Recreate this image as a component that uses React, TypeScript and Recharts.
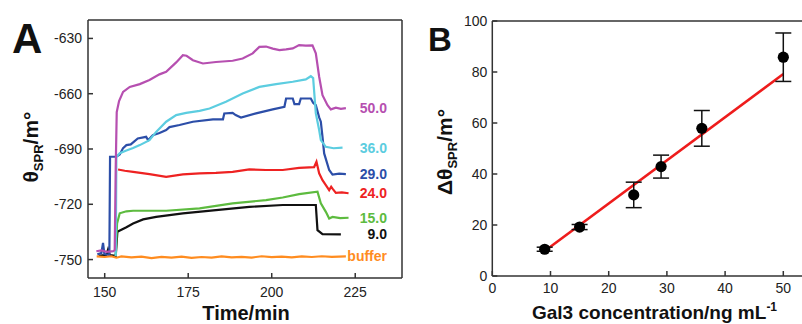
import React from 'react';
import {
  LineChart, Line, XAxis, YAxis, ComposedChart, Scatter, ErrorBar, LabelList, Label,
} from 'recharts';

const FONT = "'Liberation Sans', Arial, sans-serif";
const AXIS = '#333333';

// ---------- Panel A data (time/min, theta/m°) ----------
const s50: [number, number][] = [
  [147.5, -745.5], [149.0, -745.0], [150.5, -745.8], [152.6, -745.4], [153.0, -744.8], [153.3, -700], [153.6, -670],
  [154.3, -664], [155.5, -659], [157.5, -656.3], [160.5, -654.8], [163.4, -652.6], [166.4, -649.5], [168.4, -648.1],
  [171.4, -643], [173.4, -639.1], [174.5, -639.4], [176.4, -641.8], [179.4, -643.6], [183.3, -642.8], [188.3, -642.1],
  [191.3, -640.9], [194.3, -638.1], [196.3, -634.6], [198.3, -634.4], [200.3, -635.5], [202.3, -636.3], [204.3, -635.9],
  [206.3, -635.4], [208.2, -633.6], [210.2, -633.9], [212.2, -633.8], [213.2, -638.1], [214.2, -650.8], [215.2, -660.8],
  [216.7, -666.2], [217.7, -668.5], [219.2, -667.6], [220.7, -668.2], [222.2, -667.8],
];
const s36: [number, number][] = [
  [153.3, -748], [153.5, -694.2], [154.5, -692.3], [156.5, -690.8], [158.5, -689.5], [160.5, -687.9], [163.4, -685.2],
  [165.4, -680.7], [168.4, -675.2], [171.4, -671.6], [174.4, -670.4], [178.4, -669.3], [181.4, -668], [186.3, -664.4],
  [191.3, -659.9], [196.3, -656.3], [201.3, -654.8], [206.3, -653.5], [210.2, -652.2], [211.7, -650.5], [212.4, -651.5],
  [213.2, -670.7], [214.2, -679.7], [214.7, -685.2], [216.2, -688.8], [218.5, -689.6], [221.2, -689.3],
];
const s29: [number, number][] = [
  [147.8, -747.2], [149.0, -746.5], [149.5, -741], [149.9, -747], [151.4, -747.5], [151.6, -694.2], [153.5, -694.2],
  [154.5, -693], [155.5, -689.5], [156.5, -687.9], [157.8, -687.5], [159.9, -684.3], [162.4, -683.4], [163.0, -685.2],
  [164.4, -682.5], [166.4, -681.3], [168.4, -679.7], [169.4, -678.1], [172.4, -677], [176.4, -675.2], [182.4, -673.9],
  [185.4, -673.9], [185.8, -670.7], [188.3, -670.4], [189.2, -671.6], [190.8, -672.9], [195.3, -670.7], [200.3, -668.5],
  [203.8, -667.1], [204.3, -662.6], [206.3, -662.6], [206.8, -665.6], [208.2, -665.6], [208.7, -662.6], [211.7, -662.6],
  [212.4, -664.9], [213.2, -666.2], [214.2, -672.8], [214.7, -675.2], [215.2, -683.4], [215.7, -692.4], [217.2, -701.4],
  [218.2, -703.9], [220.2, -703.4], [222.2, -703.6],
];
const s24: [number, number][] = [
  [154, -701.1], [156, -701.8], [158.5, -702.4], [163.4, -703.6], [168.4, -705.1], [173.4, -703.8], [178.4, -703.2],
  [183.3, -703], [188.3, -702.4], [193.3, -701.1], [198.3, -701.4], [203.3, -701.4], [208.2, -700.2], [212.7, -699.8],
  [213.4, -696.9], [214.2, -703.2], [215.2, -706.9], [216.2, -709.6], [217.2, -712.3], [217.8, -710.5], [218.2, -711.5],
  [219.2, -713.8], [221, -713.5], [223, -714],
];
const s15: [number, number][] = [
  [153.3, -748], [153.7, -730.4], [154.5, -724.9], [156.5, -723.8], [158.5, -723.5], [168.4, -723.5], [178.4, -722.2],
  [188.3, -719.5], [198.3, -717.7], [203.3, -716.3], [208.2, -714.5], [213.7, -713.2], [214.7, -719.5], [216.2, -724.1],
  [217.2, -727.7], [218.2, -726.9], [220.5, -727.5], [223, -727.3],
];
const s9: [number, number][] = [
  [148.2, -748], [150.5, -747.5], [151, -744.5], [151.5, -747.5], [153.3, -748], [153.8, -734.9], [156.5, -732.5],
  [158.5, -730.4], [161.5, -728.2], [165.4, -726.8], [173.4, -724.9], [183.3, -723.2], [193.3, -721.4], [203.3, -720.4],
  [213.2, -720.4], [213.7, -734], [215.2, -736.2], [220.7, -736.3],
];
const sBuffer: [number, number][] = [
  [147.6, -748.3], [150, -748.6], [152, -748.2], [153.5, -749], [155, -748.3], [158, -748.8], [161, -748.4], [164, -749.2],
  [167, -748.5], [170, -748.9], [173, -748.4], [176, -749.1], [179, -748.6], [182, -748.9], [185, -748.3], [188, -748.8],
  [191, -748.5], [194, -748.9], [197, -748.2], [200, -748.7], [203, -748.4], [206, -748.8], [209, -748.3], [212, -748.6],
  [215, -748.2], [218, -748.5], [222.2, -748.3],
];

const seriesNames = ['9.0', '15.0', '24.0', '29.0', '36.0', '50.0', 'buffer'];
const seriesData = [s9, s15, s24, s29, s36, s50, sBuffer];
const seriesColors = ['#111111', '#5dbb3f', '#ee2222', '#2c4ea8', '#5ccde0', '#b64fb0', '#ff8c1f'];

const xTicksA = [150, 175, 200, 225];
const xMinorA = [162.5, 187.5, 212.5, 237.5];
const yTicksA = [-750, -720, -690, -660, -630];
const yMinorA = [-735, -705, -675, -645];

// ---------- Panel B data ----------
const conc = [9, 15, 24.3, 29, 36, 50];
const dTheta = [10.5, 19.2, 31.8, 42.9, 57.9, 85.8];
const dErr = [0.8, 1.0, 5.0, 4.5, 7.0, 9.5];
const fitX = [9, 50];
const fitY = [9.8, 79.2];

const xTicksB = [0, 10, 20, 30, 40, 50];
const xMinorB = [5, 15, 25, 35, 45];
const yTicksB = [0, 20, 40, 60, 80, 100];
const yMinorB = [10, 30, 50, 70, 90];

const tickStyle = { fontSize: 14, fill: '#222', fontFamily: FONT };

const makeEndLabel = (color: string) => (props: any) => {
  const { value, viewBox, y } = props;
  if (value === undefined || value === null || value === '') return null;
  const vy = viewBox && typeof viewBox.y === 'number' ? viewBox.y : y;
  return (
    <text x={387} y={vy + 5} textAnchor="end" fontSize={14} fontWeight="bold" fill={color} fontFamily={FONT}>
      {value}
    </text>
  );
};

const TitleA = () => (
  <g fontFamily={FONT}>
    <text x={12} y={53} fontSize={42} fontWeight="bold" fill="#111">A</text>
    <text x={38} y={147} textAnchor="middle" transform="rotate(-90 38 147)" fontSize={21} fontWeight="bold" fill="#111">
      θ<tspan fontSize={13} dy={5}>SPR</tspan><tspan dy={-5}>/m°</tspan>
    </text>
    <text x={246} y={320} textAnchor="middle" fontSize={20} fontWeight="bold" fill="#111">Time/min</text>
  </g>
);

const TitleB = () => (
  <g fontFamily={FONT}>
    <text x={28} y={51} fontSize={33} fontWeight="bold" fill="#111">B</text>
    <text x={52} y={152} textAnchor="middle" transform="rotate(-90 52 152)" fontSize={21} fontWeight="bold" fill="#111">
      Δθ<tspan fontSize={13} dy={5}>SPR</tspan><tspan dy={-5}>/m°</tspan>
    </text>
    <text x={132} y={319} fontSize={19} fontWeight="bold" fill="#111">
      Gal3 concentration/ng mL<tspan fontSize={12} dy={-8}>-1</tspan>
    </text>
  </g>
);

const Dot = (p: any) => <circle cx={p.cx} cy={p.cy} r={5.6} fill="#000" />;

export default function App() {
  const lines = seriesData.map((pts, i) => ({
    name: seriesNames[i],
    color: seriesColors[i],
    data: pts.map(([t, v], j) => ({ t, v, label: j === pts.length - 1 ? seriesNames[i] : undefined })),
  }));
  const scatterData = conc.map((x, i) => ({ x, y: dTheta[i], err: dErr[i] }));
  const fitData = fitX.map((x, i) => ({ x, y: fitY[i] }));

  return (
    <div style={{ position: 'fixed', left: 0, top: 0, width: 802, height: 324, overflow: 'hidden', background: '#fff' }}>
      <div style={{ position: 'absolute', left: 0, top: 0 }}>
        <LineChart width={420} height={324} margin={{ top: 19, right: 17, bottom: 44, left: 86 }}>
          <XAxis dataKey="t" type="number" domain={[145, 239]} allowDataOverflow ticks={xTicksA} interval={0}
            height={1} tickSize={-5} tickMargin={14} tick={tickStyle} stroke={AXIS} strokeWidth={1.5}>
            <Label content={<TitleA />} />
          </XAxis>
          <XAxis xAxisId="minor" dataKey="t" type="number" domain={[145, 239]} allowDataOverflow ticks={xMinorA}
            interval={0} height={1} tickSize={-4} tick={false} axisLine={false} stroke={AXIS} strokeWidth={1.5} />
          <XAxis xAxisId="top" orientation="top" type="number" domain={[145, 239]} allowDataOverflow height={1}
            tick={false} tickLine={false} stroke={AXIS} strokeWidth={1.5} />
          <YAxis type="number" domain={[-760, -620]} allowDataOverflow ticks={yTicksA} interval={0} width={1}
            tickSize={-5} tickMargin={11} tick={tickStyle} stroke={AXIS} strokeWidth={1.5} />
          <YAxis yAxisId="minor" type="number" domain={[-760, -620]} allowDataOverflow ticks={yMinorA} interval={0}
            width={1} tickSize={-4} tick={false} axisLine={false} stroke={AXIS} strokeWidth={1.5} />
          <YAxis yAxisId="right" orientation="right" type="number" domain={[-760, -620]} allowDataOverflow width={1}
            tick={false} tickLine={false} stroke={AXIS} strokeWidth={1.5} />
          {lines.map((l) => (
            <Line key={l.name} data={l.data} dataKey="v" type="linear" stroke={l.color} strokeWidth={2.2}
              dot={false} activeDot={false} isAnimationActive={false}>
              <LabelList dataKey="label" content={makeEndLabel(l.color)} />
            </Line>
          ))}
        </LineChart>
      </div>
      <div style={{ position: 'absolute', left: 400, top: 0 }}>
        <ComposedChart width={420} height={324} margin={{ top: 20, right: 7.6, bottom: 46, left: 90.3 }}>
          <XAxis dataKey="x" type="number" domain={[0, 55]} allowDataOverflow ticks={xTicksB} interval={0}
            height={1} tickSize={-5} tickMargin={12} tick={tickStyle} stroke={AXIS} strokeWidth={1.5}>
            <Label content={<TitleB />} />
          </XAxis>
          <XAxis xAxisId="minor" dataKey="x" type="number" domain={[0, 55]} allowDataOverflow ticks={xMinorB}
            interval={0} height={1} tickSize={-4} tick={false} axisLine={false} stroke={AXIS} strokeWidth={1.5} />
          <XAxis xAxisId="top" orientation="top" type="number" domain={[0, 55]} allowDataOverflow height={1}
            tick={false} tickLine={false} stroke={AXIS} strokeWidth={1.5} />
          <YAxis dataKey="y" type="number" domain={[0, 100]} allowDataOverflow ticks={yTicksB} interval={0} width={1}
            tickSize={-5} tickMargin={10} tick={tickStyle} stroke={AXIS} strokeWidth={1.5} />
          <YAxis yAxisId="minor" type="number" domain={[0, 100]} allowDataOverflow ticks={yMinorB} interval={0}
            width={1} tickSize={-4} tick={false} axisLine={false} stroke={AXIS} strokeWidth={1.5} />
          <Line data={fitData} dataKey="y" type="linear" stroke="#ee1c1c" strokeWidth={2.6} dot={false}
            activeDot={false} isAnimationActive={false} />
          <Scatter data={scatterData} dataKey="y" shape={<Dot />} isAnimationActive={false}>
            <ErrorBar dataKey="err" direction="y" width={8} stroke="#111" strokeWidth={1.5} />
          </Scatter>
        </ComposedChart>
      </div>
    </div>
  );
}
